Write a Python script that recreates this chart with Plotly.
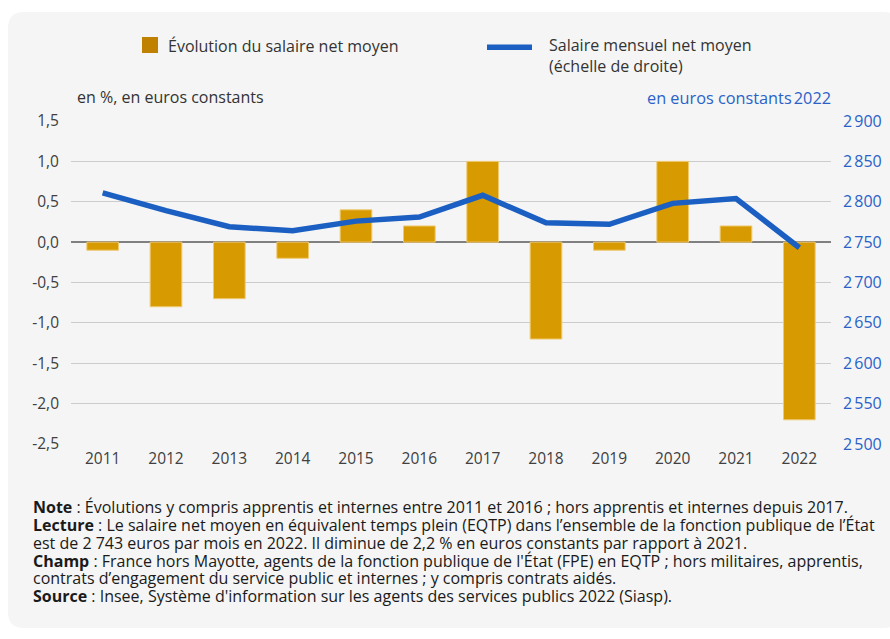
import plotly.graph_objects as go

years = ["2011", "2012", "2013", "2014", "2015", "2016", "2017", "2018", "2019", "2020", "2021", "2022"]
evolution_pct = [-0.1, -0.8, -0.7, -0.2, 0.4, 0.2, 1.0, -1.2, -0.1, 1.0, 0.2, -2.2]
salaire_mensuel = [2811, 2789, 2769, 2764, 2776, 2781, 2808, 2774, 2772, 2798, 2804, 2743]

left_tickvals = [1.5, 1.0, 0.5, 0.0, -0.5, -1.0, -1.5, -2.0, -2.5]
left_ticktext = ["1,5", "1,0", "0,5", "0,0", "-0,5", "-1,0", "-1,5", "-2,0", "-2,5"]
right_tickvals = [2900, 2850, 2800, 2750, 2700, 2650, 2600, 2550, 2500]
right_ticktext = ["2\u202f900", "2\u202f850", "2\u202f800", "2\u202f750", "2\u202f700",
                  "2\u202f650", "2\u202f600", "2\u202f550", "2\u202f500"]

note_lines = [
    "<b>Note</b> : Évolutions y compris apprentis et internes entre 2011 et 2016 ; hors apprentis et internes depuis 2017.",
    "<b>Lecture</b> : Le salaire net moyen en équivalent temps plein (EQTP) dans l’ensemble de la fonction publique de l’État",
    "est de 2 743 euros par mois en 2022. Il diminue de 2,2 % en euros constants par rapport à 2021.",
    "<b>Champ</b> : France hors Mayotte, agents de la fonction publique de l'État (FPE) en EQTP ; hors militaires, apprentis,",
    "contrats d’engagement du service public et internes ; y compris contrats aidés.",
    "<b>Source</b> : Insee, Système d'information sur les agents des services publics 2022 (Siasp).",
]

BAR = "#d79a00"
BLUE = "#1a5fc1"
AXBLUE = "#2a62c9"
TXT = "#333333"
FONT = "Open Sans"

W, H = 890, 639
L, R, T, B = 71, 59, 121, 195
PW = W - L - R
PH = H - T - B


def px(x):
    return (x - L) / PW


def py(y):
    return (H - B - y) / PH


fig = go.Figure()
fig.add_trace(go.Bar(
    x=years, y=evolution_pct, name="Évolution du salaire net moyen",
    marker=dict(color=BAR, line=dict(color="#efc970", width=1)),
    showlegend=False, yaxis="y",
))
fig.add_trace(go.Scatter(
    x=years, y=salaire_mensuel, name="Salaire mensuel net moyen (échelle de droite)",
    mode="lines", line=dict(color=BLUE, width=5.5),
    showlegend=False, yaxis="y2",
))

# rounded background panel
x0, x1, y0, y1, r = 8, 900, 12, 628, 16
rx, ry = r / PW, r / PH
X0, X1, Y0, Y1 = px(x0), px(x1), py(y0), py(y1)
path = (f"M {X0+rx},{Y0} L {X1-rx},{Y0} Q {X1},{Y0} {X1},{Y0-ry} "
        f"L {X1},{Y1+ry} Q {X1},{Y1} {X1-rx},{Y1} L {X0+rx},{Y1} "
        f"Q {X0},{Y1} {X0},{Y1+ry} L {X0},{Y0-ry} Q {X0},{Y0} {X0+rx},{Y0} Z")

shapes = [
    dict(type="path", xref="paper", yref="paper", path=path,
         fillcolor="#f5f5f5", line=dict(width=0), layer="below"),
    # legend swatches
    dict(type="rect", xref="paper", yref="paper",
         x0=px(142), x1=px(158), y0=py(53), y1=py(37),
         fillcolor="#c08000", line=dict(width=0)),
    dict(type="line", xref="paper", yref="paper",
         x0=px(487), x1=px(532), y0=py(47.3), y1=py(47.3),
         line=dict(color=BLUE, width=5.5)),
]

annotations = [
    dict(text="Évolution du salaire net moyen", x=px(166), y=py(46), xref="paper", yref="paper",
         xanchor="left", yanchor="middle", showarrow=False, font=dict(size=16, color=TXT, family=FONT)),
    dict(text="Salaire mensuel net moyen", x=px(547), y=py(45), xref="paper", yref="paper",
         xanchor="left", yanchor="middle", showarrow=False, font=dict(size=16, color=TXT, family=FONT)),
    dict(text="(échelle de droite)", x=px(547), y=py(66), xref="paper", yref="paper",
         xanchor="left", yanchor="middle", showarrow=False, font=dict(size=16, color=TXT, family=FONT)),
    dict(text="en %, en euros constants", x=px(75), y=py(97), xref="paper", yref="paper",
         xanchor="left", yanchor="middle", showarrow=False, font=dict(size=16, color=TXT, family=FONT)),
    dict(text="en euros constants\u202f2022", x=px(833), y=py(98), xref="paper", yref="paper",
         xanchor="right", yanchor="middle", showarrow=False, font=dict(size=16.3, color=AXBLUE, family=FONT)),
]
note_y = [507, 525, 543, 560.5, 578, 596]
for line, yy in zip(note_lines, note_y):
    annotations.append(dict(text=line, x=px(31), y=py(yy), xref="paper", yref="paper",
                            xanchor="left", yanchor="middle", align="left", showarrow=False,
                            font=dict(size=16, color="#1a1a1a", family=FONT)))

fig.update_layout(
    width=W, height=H,
    margin=dict(l=L, r=R, t=T, b=B, autoexpand=False),
    paper_bgcolor="white", plot_bgcolor="rgba(0,0,0,0)",
    font=dict(family=FONT, size=15, color=TXT),
    bargap=0.5,
    shapes=shapes, annotations=annotations,
    xaxis=dict(type="category", showgrid=False, showline=False, ticks="",
               tickfont=dict(size=15.5, color="#404040"), ticklabelstandoff=3),
    yaxis=dict(range=[-2.5, 1.5], tickvals=left_tickvals, ticktext=left_ticktext,
               showgrid=True, gridcolor="#cccccc", gridwidth=1.2,
               zeroline=True, zerolinecolor="#808080", zerolinewidth=2,
               showline=False, ticks="", ticklabelstandoff=11,
               tickfont=dict(size=15.5, color="#404040")),
    yaxis2=dict(range=[2500, 2900], tickvals=right_tickvals, ticktext=right_ticktext,
                overlaying="y", side="right", showgrid=False, zeroline=False,
                showline=False, ticks="", ticklabelstandoff=11,
                tickfont=dict(size=16, color=AXBLUE)),
)

fig.write_html("out.html", config={"displayModeBar": False},
               post_script="document.body.style.margin='0';")
